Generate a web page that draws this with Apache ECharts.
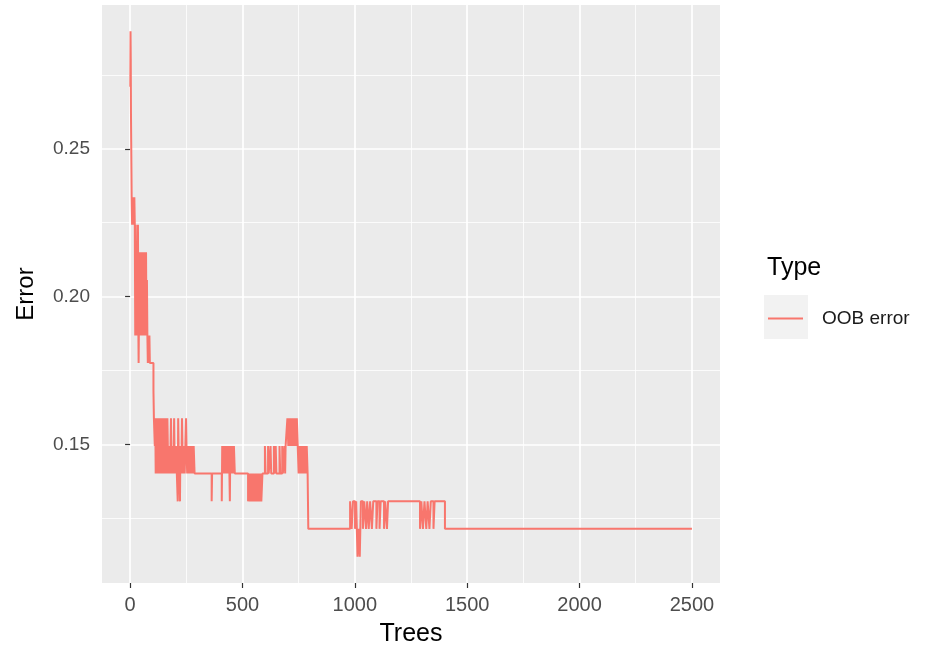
<!DOCTYPE html>
<html>
<head>
<meta charset="utf-8">
<title>OOB error by number of trees</title>
<script src="https://cdn.jsdelivr.net/npm/echarts@6/dist/echarts.min.js"></script>
<style>
  html, body { margin: 0; padding: 0; background: #ffffff; }
  #chart { width: 933px; height: 655px; }
</style>
</head>
<body>
<div id="chart"></div>
<script>
// Out-of-bag error of the random forest, stored as change points:
// the error holds its value from trees[i] until trees[i + 1].
const trees = [
  1, 2, 3, 4, 5, 6, 7, 9, 11, 13, 15, 17, 19, 21,
  23, 25, 27, 29, 31, 33, 35, 37, 38, 40, 42, 44, 46, 48,
  49, 51, 53, 55, 57, 59, 61, 63, 65, 67, 69, 71, 73, 75,
  77, 79, 81, 83, 86, 88,
  104, 106, 110, 112, 114, 116, 118, 120, 123, 125, 128, 130, 133, 136, 138, 141,
  144, 146, 149, 152, 155, 158, 161, 163, 166, 170, 175, 178, 182, 185, 190, 193,
  196, 199, 204, 208, 212, 214, 216, 219, 222, 224, 228, 231, 233, 236, 240, 243,
  246, 249, 251, 254, 258, 262, 266, 270, 274, 279, 283, 287,
  363, 365, 408, 410, 413, 416, 420, 424, 428, 432, 436, 440, 444, 446, 450, 454,
  458, 462, 466,
  525, 528, 531, 535, 538, 542, 545, 549, 553, 558, 561, 566, 569, 573, 576, 581,
  584, 589,
  600, 603, 614, 617, 625, 628, 640, 643, 648, 651, 665, 668, 677, 680, 687, 690,
  692, 700, 704, 707, 712, 715, 720, 724, 729, 733, 738, 742, 746, 750, 753, 758,
  761, 766, 769, 774, 777, 783, 786, 790, 793,
  979, 986, 992, 1001, 1006, 1012, 1018, 1022, 1027, 1036, 1042, 1050, 1055, 1062,
  1068, 1076, 1082, 1096, 1101, 1110, 1115, 1130, 1135, 1143, 1148, 1290, 1296,
  1303, 1310, 1318, 1324, 1332, 1338, 1350, 1355, 1401, 2500
];
const oobError = [
  0.2710, 0.2897, 0.2804, 0.2617, 0.2523, 0.2430, 0.2336, 0.2243, 0.2336, 0.2243, 0.2336, 0.2243, 0.2336, 0.2243,
  0.1869, 0.2243, 0.2056, 0.1869, 0.2150, 0.1963, 0.2243, 0.1869, 0.1776, 0.1963, 0.2150, 0.1869, 0.2056, 0.1963,
  0.2150, 0.1869, 0.2150, 0.1963, 0.2150, 0.1869, 0.2056, 0.2150, 0.1869, 0.2150, 0.1963, 0.2150, 0.1869, 0.2056,
  0.1869, 0.1776, 0.1869, 0.1776, 0.1869, 0.1776,
  0.1682, 0.1589, 0.1495, 0.1589, 0.1402, 0.1589, 0.1495, 0.1402, 0.1589, 0.1402, 0.1495, 0.1589, 0.1402, 0.1589, 0.1495, 0.1402,
  0.1589, 0.1495, 0.1402, 0.1589, 0.1402, 0.1589, 0.1495, 0.1402, 0.1589, 0.1402, 0.1495, 0.1402, 0.1589, 0.1402, 0.1495, 0.1402,
  0.1589, 0.1402, 0.1495, 0.1402, 0.1308, 0.1589, 0.1495, 0.1402, 0.1308, 0.1495, 0.1402, 0.1589, 0.1495, 0.1402, 0.1495, 0.1402,
  0.1495, 0.1589, 0.1495, 0.1402, 0.1495, 0.1402, 0.1495, 0.1402, 0.1495, 0.1402, 0.1495, 0.1402,
  0.1308, 0.1402, 0.1308, 0.1495, 0.1402, 0.1495, 0.1402, 0.1495, 0.1402, 0.1495, 0.1402, 0.1495, 0.1308, 0.1495, 0.1402, 0.1495,
  0.1402, 0.1495, 0.1402,
  0.1308, 0.1402, 0.1308, 0.1402, 0.1308, 0.1402, 0.1308, 0.1402, 0.1308, 0.1402, 0.1308, 0.1402, 0.1308, 0.1402, 0.1308, 0.1402,
  0.1308, 0.1402,
  0.1495, 0.1402, 0.1495, 0.1402, 0.1495, 0.1402, 0.1495, 0.1402, 0.1495, 0.1402, 0.1495, 0.1402, 0.1495, 0.1402, 0.1495, 0.1402,
  0.1495, 0.1589, 0.1495, 0.1589, 0.1495, 0.1589, 0.1495, 0.1589, 0.1495, 0.1589, 0.1495, 0.1589, 0.1495, 0.1402, 0.1495, 0.1402,
  0.1495, 0.1402, 0.1495, 0.1402, 0.1495, 0.1402, 0.1495, 0.1402, 0.1215,
  0.1308, 0.1215, 0.1308, 0.1215, 0.1308, 0.1121, 0.1215, 0.1121, 0.1308, 0.1215, 0.1308, 0.1215, 0.1308, 0.1215,
  0.1308, 0.1215, 0.1308, 0.1215, 0.1308, 0.1215, 0.1308, 0.1215, 0.1308, 0.1215, 0.1308, 0.1215, 0.1308,
  0.1215, 0.1308, 0.1215, 0.1308, 0.1215, 0.1308, 0.1215, 0.1308, 0.1215, 0.1215
];

// Axis breaks
const xMajorTicks = [0, 500, 1000, 1500, 2000, 2500];
const xMinorTicks = [250, 750, 1250, 1750, 2250];
const yMajorTicks = [0.15, 0.20, 0.25];
const yMinorTicks = [0.125, 0.175, 0.225, 0.275];

const seriesName = 'OOB error';
const legendTitle = 'Type';

// Panel limits: data range widened by 5% on each side
const xMin = -124.95, xMax = 2624.95;
const yMin = 0.1032, yMax = 0.2986;

const FONT = '"Liberation Sans", Arial, Helvetica, sans-serif';
const PANEL_BG = '#EBEBEB';
const LINE_COLOR = '#F8766D';
const TEXT_SIZE = 20;
const TITLE_SIZE = 25;

const chart = echarts.init(document.getElementById('chart'), null, { renderer: 'canvas' });

function majorAxis(extra) {
  return Object.assign({
    type: 'value',
    gridIndex: 0,
    axisLine: { show: false },
    splitLine: { show: true, lineStyle: { color: '#FFFFFF', width: 1.7 } },
    minorTick: { show: false },
    minorSplitLine: { show: false }
  }, extra);
}

function minorAxis(extra) {
  return Object.assign({
    type: 'value',
    gridIndex: 0,
    axisLine: { show: false },
    splitLine: { show: true, lineStyle: { color: '#FFFFFF', width: 0.8 } },
    minorTick: { show: false },
    minorSplitLine: { show: false }
  }, extra);
}

const option = {
  animation: false,
  backgroundColor: '#FFFFFF',
  textStyle: { fontFamily: FONT },
  grid: {
    left: 102, right: 213, top: 5, bottom: 72,
    show: true, backgroundColor: PANEL_BG, borderWidth: 0
  },
  xAxis: [
    majorAxis({
      min: xMin, max: xMax,
      axisTick: { show: true, length: 5, customValues: xMajorTicks, lineStyle: { color: '#333333', width: 1.2 } },
      axisLabel: {
        customValues: xMajorTicks,
        color: '#4D4D4D', fontSize: TEXT_SIZE, margin: 12, fontFamily: FONT,
        formatter: v => String(v)
      },
      name: 'Trees',
      nameLocation: 'middle',
      nameGap: 39,
      nameTextStyle: { color: '#000000', fontSize: TITLE_SIZE, fontFamily: FONT }
    }),
    minorAxis({
      min: xMin, max: xMax,
      axisTick: { show: false, customValues: xMinorTicks },
      axisLabel: { show: false, customValues: xMinorTicks }
    })
  ],
  yAxis: [
    majorAxis({
      min: yMin, max: yMax,
      axisTick: { show: true, length: 5, customValues: yMajorTicks, lineStyle: { color: '#333333', width: 1.2 } },
      axisLabel: {
        customValues: yMajorTicks,
        color: '#4D4D4D', fontSize: 19, margin: 12, fontFamily: FONT,
        formatter: v => v.toFixed(2)
      },
      name: 'Error',
      nameLocation: 'middle',
      nameGap: 64,
      nameRotate: 90,
      nameTextStyle: { color: '#000000', fontSize: 24, fontFamily: FONT }
    }),
    minorAxis({
      min: yMin, max: yMax,
      axisTick: { show: false, customValues: yMinorTicks },
      axisLabel: { show: false, customValues: yMinorTicks }
    })
  ],
  legend: {
    show: true,
    data: [{ name: seriesName, icon: 'rect' }],
    orient: 'vertical',
    left: 763,
    top: 304,
    itemWidth: 35,
    itemHeight: 2,
    selectedMode: false,
    textStyle: { color: '#1A1A1A', fontSize: 19, fontFamily: FONT, padding: [0, 0, 0, 14] },
    z: 10
  },
  graphic: [
    {
      type: 'text',
      left: 767,
      top: 256,
      style: { text: legendTitle, fill: '#000000', font: TITLE_SIZE + 'px ' + FONT }
    },
    {
      type: 'rect',
      left: 764,
      top: 295,
      shape: { width: 44, height: 44 },
      style: { fill: '#F2F2F2' },
      z: 0
    }
  ],
  series: [
    {
      name: seriesName,
      type: 'line',
      xAxisIndex: 0,
      yAxisIndex: 0,
      step: 'end',
      showSymbol: false,
      symbol: 'none',
      clip: true,
      lineStyle: { color: LINE_COLOR, width: 2 },
      itemStyle: { color: LINE_COLOR },
      data: trees.map((t, i) => [t, oobError[i]]),
      z: 5
    }
  ]
};

chart.setOption(option);
</script>
</body>
</html>
